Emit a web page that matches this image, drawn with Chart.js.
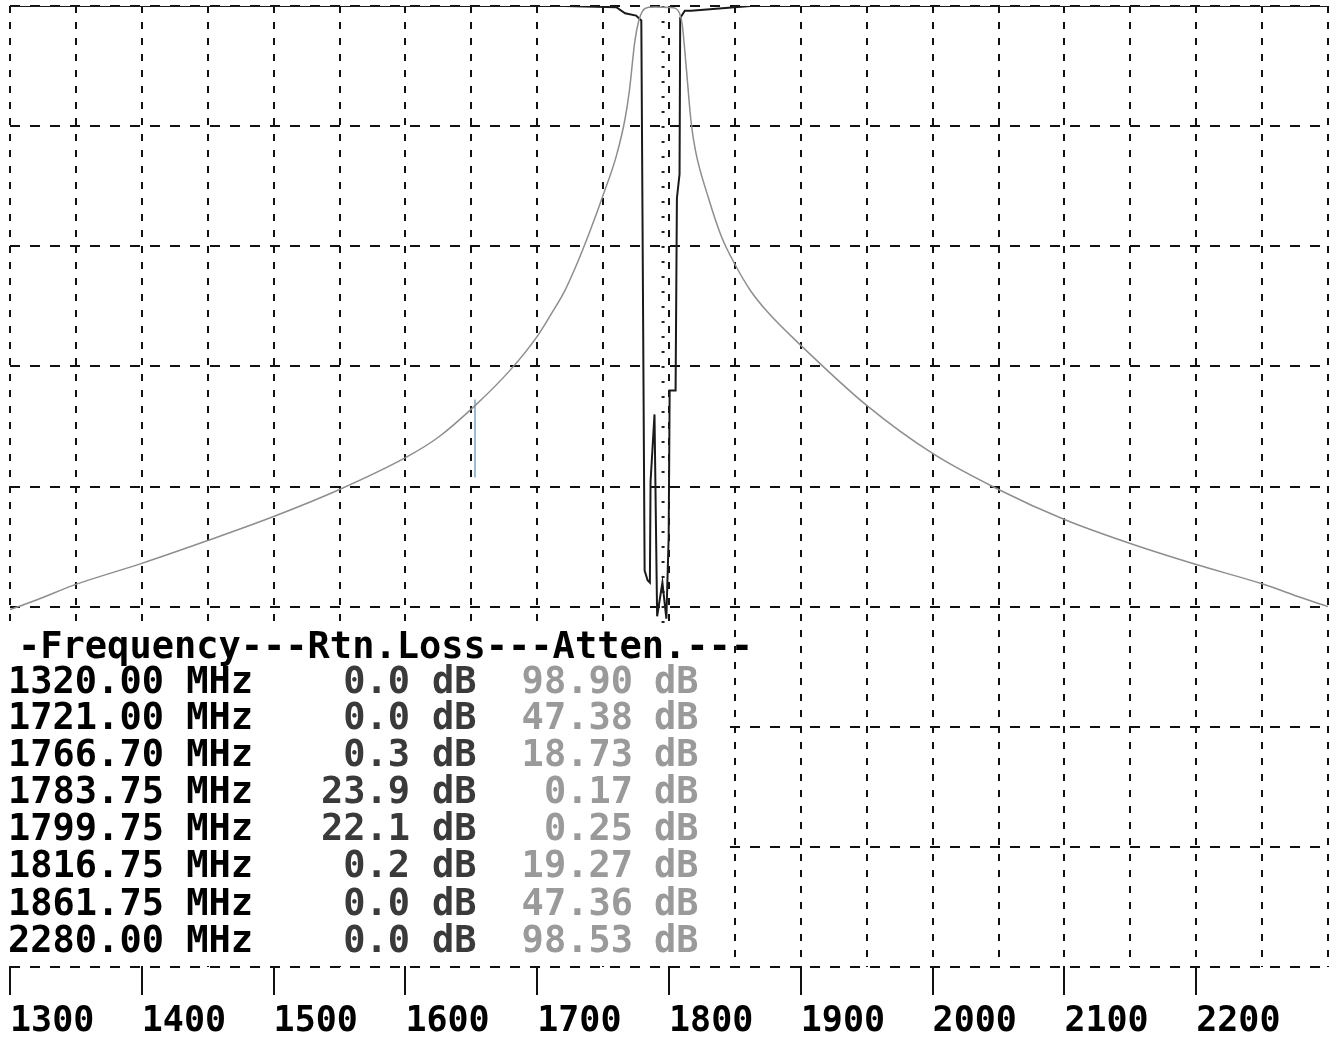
<!DOCTYPE html>
<html>
<head>
<meta charset="utf-8">
<script src="https://cdn.jsdelivr.net/npm/chart.js@4.4.0/dist/chart.umd.min.js"></script>
<style>
  body { margin: 0; background: #fff; }
  #wrap { width: 1336px; height: 1037px; }
</style>
</head>
<body>
<div id="wrap"><canvas id="plot" width="1336" height="1037"></canvas></div>
<script>
// attenuation (S21), dB
const attenFreq = [1300, 1320, 1350, 1400, 1450, 1500, 1550, 1600, 1625, 1653, 1680, 1700, 1710, 1721, 1730, 1740, 1750, 1760, 1766.7, 1770, 1774, 1777, 1780, 1785, 1790, 1795, 1800, 1805, 1808, 1810, 1813, 1816.75, 1820, 1830, 1840, 1850, 1861.75, 1875, 1900, 1950, 2000, 2050, 2100, 2150, 2200, 2250, 2280, 2300];
const attenDb = [100.5, 98.9, 96.3, 92.8, 89, 85, 80.5, 75.2, 71.8, 66.5, 60.5, 55, 51.5, 47.38, 43, 37.5, 31.5, 25, 18.73, 14, 6, 2.5, 0.8, 0.2, 0.17, 0.2, 0.25, 0.4, 1.2, 3, 10, 19.27, 24, 32, 38.5, 43, 47.36, 51, 56.5, 66.5, 74.5, 80.5, 85.5, 89.5, 93, 96.2, 98.53, 100];

// return loss (S11), dB, own scale 0..40
const rtnFreq = [1300, 1721, 1760, 1766.7, 1775, 1779, 1781.5, 1783.75, 1785.5, 1786, 1789, 1791, 1795, 1798, 1799.75, 1800.5, 1805, 1806, 1808, 1808.5, 1812, 1816.75, 1861.75, 2300];
const rtnDb = [0, 0, 0.05, 0.3, 0.4, 0.6, 23.5, 23.9, 24, 19.8, 17, 25.4, 24, 25.5, 22.1, 16, 16, 8, 7, 0.5, 0.2, 0.2, 0, 0];

// cursor marks
const markerFreq = 1795.5;
const markerSpan = [0, 105];
const cursorFreq = 1652.8;
const cursorSpan = [65.5, 78.5];

// readout table
const tableFreq = ['1320.00', '1721.00', '1766.70', '1783.75', '1799.75', '1816.75', '1861.75', '2280.00'];
const tableRtn = ['0.0', '0.0', '0.3', '23.9', '22.1', '0.2', '0.0', '0.0'];
const tableAtten = ['98.90', '47.38', '18.73', '0.17', '0.25', '19.27', '47.36', '98.53'];

const monoFont = '"DejaVu Sans Mono", "Liberation Mono", monospace';

const pts = (xs, ys) => xs.map((x, i) => ({x: x, y: ys[i]}));

const readout = {
  id: 'readout',
  afterDatasetsDraw(chart) {
    const ctx = chart.ctx;
    ctx.save();
    ctx.fillStyle = '#fff';
    ctx.fillRect(0, 630, 728, 332);
    ctx.font = 'bold 37px ' + monoFont;
    ctx.textBaseline = 'middle';
    ctx.fillStyle = '#000';
    ctx.textAlign = 'left';
    ctx.fillText('-Frequency---Rtn.Loss---Atten.---', 18, 648);
    const rowY = [683, 719, 756, 793, 830, 867, 905, 942];
    tableFreq.forEach((f, i) => {
      const y = rowY[i];
      ctx.textAlign = 'left';
      ctx.fillStyle = '#000';
      ctx.fillText(f + ' MHz', 8, y);
      ctx.fillStyle = '#3a3a3a';
      ctx.textAlign = 'right';
      ctx.fillText(tableRtn[i], 410, y);
      ctx.textAlign = 'left';
      ctx.fillText('dB', 432, y);
      ctx.fillStyle = '#9a9a9a';
      ctx.textAlign = 'right';
      ctx.fillText(tableAtten[i], 633, y);
      ctx.textAlign = 'left';
      ctx.fillText('dB', 654, y);
    });
    ctx.restore();
  }
};

new Chart(document.getElementById('plot'), {
  type: 'line',
  data: {
    datasets: [
      {
        label: 'Atten.',
        data: pts(attenFreq, attenDb),
        borderColor: '#8e8e8e',
        borderWidth: 1.5,
        pointRadius: 0,
        cubicInterpolationMode: 'monotone',
        yAxisID: 'y'
      },
      {
        label: 'Rtn.Loss',
        data: pts(rtnFreq, rtnDb),
        borderColor: '#1a1a1a',
        borderWidth: 2,
        pointRadius: 0,
        yAxisID: 'y2'
      },
      {
        label: 'marker',
        data: [{x: markerFreq, y: markerSpan[0]}, {x: markerFreq, y: markerSpan[1]}],
        borderColor: '#222',
        borderWidth: 3,
        borderDash: [2, 13],
        pointRadius: 0,
        yAxisID: 'y'
      },
      {
        label: 'cursor',
        data: [{x: cursorFreq, y: cursorSpan[0]}, {x: cursorFreq, y: cursorSpan[1]}],
        borderColor: '#9dbbd0',
        borderWidth: 2,
        pointRadius: 0,
        yAxisID: 'y'
      }
    ]
  },
  options: {
    responsive: false,
    animation: false,
    devicePixelRatio: 1,
    layout: { padding: { left: 10, top: 6, right: 8, bottom: 0 } },
    plugins: {
      legend: { display: false },
      tooltip: { enabled: false }
    },
    scales: {
      x: {
        type: 'linear',
        min: 1300,
        max: 2300,
        border: { display: false, dash: [7, 9] },
        grid: {
          color: '#111',
          lineWidth: 2,
          tickLength: 28,
          tickWidth: 2,
          tickColor: c => (c.tick && c.tick.value % 100 === 0 && c.tick.value < 2300) ? '#111' : 'rgba(0,0,0,0)'
        },
        ticks: {
          stepSize: 50,
          autoSkip: false,
          maxRotation: 0,
          align: 'start',
          padding: 6,
          color: '#000',
          font: { family: monoFont, size: 35, weight: 'bold' },
          callback: v => (v % 100 === 0 && v < 2300) ? String(v) : ''
        },
        afterFit: s => { s.height = 70; }
      },
      y: {
        min: 0,
        max: 160,
        reverse: true,
        border: { display: false, dash: [10, 10] },
        grid: { color: '#111', lineWidth: 2, drawTicks: false },
        ticks: { display: false, stepSize: 20 },
        afterFit: s => { s.width = 0; }
      },
      y2: {
        display: false,
        min: 0,
        max: 40,
        reverse: true
      }
    }
  },
  plugins: [readout]
});
</script>
</body>
</html>
